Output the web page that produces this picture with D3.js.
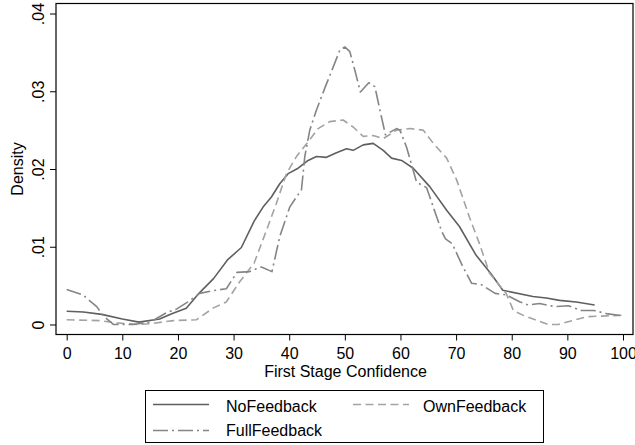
<!DOCTYPE html>
<html>
<head>
<meta charset="utf-8">
<script src="https://cdn.jsdelivr.net/npm/d3@7"></script>
<style>
  body { margin: 0; background: #fff; }
  text { font-family: "Liberation Sans", Arial, Helvetica, sans-serif; font-size: 16px; fill: #000; }
</style>
</head>
<body>
<div id="chart"></div>
<script>
// data
const xTicks = [0, 10, 20, 30, 40, 50, 60, 70, 80, 90, 100];
const yTicks = [0, 0.01, 0.02, 0.03, 0.04];
const yTickLabels = ["0", ".01", ".02", ".03", ".04"];
const seriesNames = ["NoFeedback", "OwnFeedback", "FullFeedback"];

const noX = [0, 3, 6.3, 10, 13, 16.7, 19, 21.5, 23.9, 26.4, 28.9, 31.4, 33.7, 35.3, 36.8, 38.3, 39.8, 41.6, 43.4, 44.9, 46.7, 48.5, 50.3, 51.5, 53.3, 55.1, 56.9, 58.4, 60.2, 62.3, 65.3, 68.3, 70.6, 73.6, 76.2, 78.4, 83.8, 86.2, 88.6, 91.6, 94.9];
const noY = [0.0017, 0.0016, 0.0013, 0.0007, 0.0003, 0.0007, 0.0014, 0.0021, 0.0041, 0.0059, 0.0083, 0.0099, 0.0133, 0.0151, 0.0164, 0.0181, 0.0194, 0.0201, 0.0211, 0.0216, 0.0215, 0.0221, 0.0226, 0.0224, 0.0231, 0.0233, 0.0224, 0.0214, 0.0211, 0.0201, 0.0177, 0.0147, 0.0126, 0.0089, 0.0066, 0.0044, 0.0036, 0.0034, 0.0031, 0.0029, 0.0025];

const ownX = [0, 5.9, 9, 13, 15, 19.2, 23.3, 26.3, 28.7, 31.1, 33.7, 35.7, 37.7, 39.5, 41.3, 43.4, 45.2, 47.3, 49.7, 51.5, 53.3, 55.1, 56.9, 59.3, 61.7, 64.1, 65.9, 68.3, 70.1, 72.4, 74.2, 76, 79, 80.3, 82, 86.5, 88.3, 93.5, 97, 100];
const ownY = [0.0006, 0.0005, 0.0002, 0, 0.0001, 0.0005, 0.0006, 0.0021, 0.0029, 0.0055, 0.0079, 0.0117, 0.0156, 0.0194, 0.0216, 0.0235, 0.0252, 0.0261, 0.0263, 0.0254, 0.0242, 0.0243, 0.0239, 0.025, 0.0252, 0.025, 0.0233, 0.0214, 0.0186, 0.0138, 0.0104, 0.0066, 0.004, 0.0018, 0.0012, 0, 0, 0.001, 0.0011, 0.0012];

const fullX = [0, 2.9, 5.4, 6.6, 8.4, 12, 15, 17.9, 19.8, 21.8, 23.9, 26.8, 28.7, 30.6, 32.9, 35, 36.9, 38.3, 40.1, 41.3, 42.2, 42.8, 43.7, 44.9, 46.4, 47.9, 49.1, 50, 50.9, 51.8, 52.8, 54.3, 55.4, 56.3, 57.3, 59.3, 59.9, 61.1, 62.9, 64.7, 67.4, 68.1, 69.3, 71.1, 72.8, 74.6, 77, 79, 81.5, 83, 85, 86.9, 88, 90.2, 92.5, 94.8, 97, 100];
const fullY = [0.0045, 0.0038, 0.0023, 0.0011, 0, 0, 0.0003, 0.0015, 0.002, 0.0029, 0.004, 0.0044, 0.0046, 0.0067, 0.0068, 0.0074, 0.0068, 0.0113, 0.0151, 0.0164, 0.0173, 0.0216, 0.025, 0.0276, 0.0304, 0.0331, 0.0353, 0.0357, 0.0351, 0.0327, 0.0299, 0.0311, 0.0306, 0.0276, 0.0244, 0.0252, 0.025, 0.0228, 0.0183, 0.0176, 0.012, 0.011, 0.0104, 0.0076, 0.0053, 0.0051, 0.004, 0.0038, 0.0029, 0.0025, 0.0027, 0.0024, 0.0023, 0.0024, 0.0018, 0.0018, 0.0014, 0.0011];

// chart size and plot region
const width = 635, height = 445;
const margin = {top: 3.5, right: 2, bottom: 110.5, left: 56};
const plotW = width - margin.left - margin.right,
      plotH = height - margin.top - margin.bottom;

const styles = [
  {color: "#5f5f5f", dash: null},
  {color: "#a3a3a3", dash: "8,4.5"},
  {color: "#858585", dash: "15,4,2,4"}
];

const svg = d3.select("#chart")
  .append("svg")
    .attr("width", width)
    .attr("height", height);

const g = svg.append("g")
  .attr("transform", "translate(" + margin.left + "," + margin.top + ")");

const x = d3.scaleLinear().domain([-1.92, 101.8]).range([0, plotW]);
const y = d3.scaleLinear().domain([-0.00129, 0.04129]).range([plotH, 0]);

// axes
const xAxis = g.append("g")
  .attr("transform", `translate(0,${plotH})`)
  .call(d3.axisBottom(x).tickValues(xTicks).tickSize(6).tickPadding(9).tickFormat(d3.format("d")));
const yAxis = g.append("g")
  .call(d3.axisLeft(y).tickValues(yTicks).tickSize(6).tickFormat((d, i) => yTickLabels[i]));

[xAxis, yAxis].forEach(a => {
  a.select(".domain").remove();
  a.selectAll(".tick line").attr("stroke", "#000").attr("stroke-width", 1);
  a.selectAll(".tick text").attr("font-size", 16.5).attr("fill", "#000")
    .attr("font-family", "'Liberation Sans', Arial, sans-serif");
});
xAxis.selectAll(".tick text").attr("dy", null).attr("y", 24.5);
yAxis.selectAll(".tick text")
  .attr("x", null).attr("dy", null)
  .attr("text-anchor", "middle")
  .attr("transform", "translate(-12.5,0) rotate(-90)");

// curves
const series = [[noX, noY], [ownX, ownY], [fullX, fullY]];
const line = d3.line().x(d => x(d[0])).y(d => y(d[1]));

series.forEach((s, i) => {
  const pts = s[0].map((v, j) => [v, s[1][j]]);
  g.append("path")
    .datum(pts)
    .attr("fill", "none")
    .attr("stroke", styles[i].color)
    .attr("stroke-width", 1.6)
    .attr("stroke-linejoin", "round")
    .attr("stroke-dasharray", styles[i].dash)
    .attr("d", line);
});

// plot frame
g.append("rect")
  .attr("width", plotW).attr("height", plotH)
  .attr("fill", "none").attr("stroke", "#000").attr("stroke-width", 1.2);

// axis titles
svg.append("text")
  .attr("text-anchor", "middle")
  .attr("font-size", 16.5)
  .attr("transform", `translate(23,${margin.top + plotH / 2}) rotate(-90)`)
  .text("Density");

svg.append("text")
  .attr("text-anchor", "middle")
  .attr("font-size", 16.5)
  .attr("x", margin.left + plotW / 2 + 1)
  .attr("y", 377)
  .text("First Stage Confidence");

// legend
const legend = svg.append("g");
legend.append("rect")
  .attr("x", 145.5).attr("y", 390.5).attr("width", 398).attr("height", 52)
  .attr("fill", "#fff").attr("stroke", "#000").attr("stroke-width", 1);

const legendPos = [
  {lx: 153, tx: 226, ly: 404.5, ty: 411.5},
  {lx: 353, tx: 423, ly: 404.5, ty: 411.5},
  {lx: 153, tx: 226, ly: 430.5, ty: 436}
];
seriesNames.forEach((name, i) => {
  const p = legendPos[i];
  legend.append("line")
    .attr("x1", p.lx).attr("x2", p.lx + 56)
    .attr("y1", p.ly).attr("y2", p.ly)
    .attr("stroke", styles[i].color)
    .attr("stroke-width", 1.6)
    .attr("stroke-dasharray", styles[i].dash);
  legend.append("text")
    .attr("x", p.tx).attr("y", p.ty)
    .text(name);
});
</script>
</body>
</html>
